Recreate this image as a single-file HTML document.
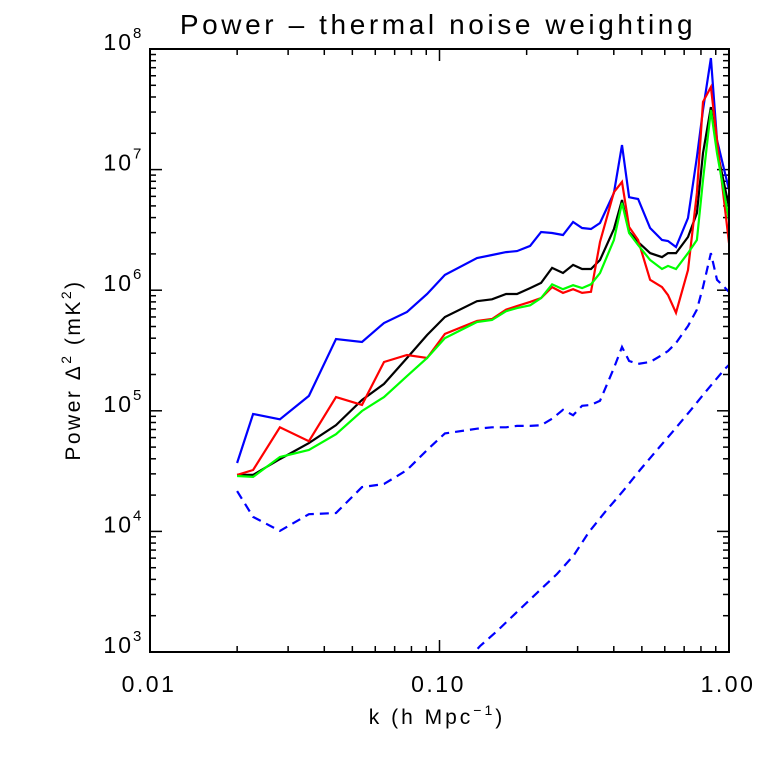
<!DOCTYPE html>
<html><head><meta charset="utf-8"><style>
body{margin:0;background:#fff;}
svg text{font-family:"Liberation Sans",sans-serif;fill:#000;font-weight:300;}
</style></head><body>
<svg id="chart" width="774" height="753" viewBox="0 0 774 753" xmlns="http://www.w3.org/2000/svg">
<rect width="774" height="753" fill="#fff"/>
<text x="438" y="34" font-size="28" text-anchor="middle" letter-spacing="3.6">Power – thermal noise weighting</text>
<text x="437" y="724" font-size="21" text-anchor="middle" letter-spacing="3">k (h Mpc<tspan font-size="14" dy="-9">−1</tspan><tspan dy="9">)</tspan></text>
<text transform="translate(80,370) rotate(-90)" font-size="21" text-anchor="middle" letter-spacing="2.5">Power Δ<tspan font-size="14" dy="-9">2</tspan><tspan dy="9"> (mK</tspan><tspan font-size="14" dy="-9">2</tspan><tspan dy="9">)</tspan></text>
<g id="axes"></g>
<defs><clipPath id="plotclip"><rect x="150" y="49" width="579" height="603"/></clipPath></defs>
<g id="series" clip-path="url(#plotclip)"></g>
<rect x="150" y="49" width="579" height="603" fill="none" stroke="#000" stroke-width="2"/>
</svg>
<script>
const kGrid = [0.020,0.0227,0.0281,0.0354,0.0439,0.0540,0.0643,0.0772,0.0906,0.1044,0.1348,0.1518,0.1698,0.1853,0.2055,0.2243,0.2448,0.2671,0.2893,0.3108,0.3337,0.3584,0.4004,0.4270,0.4516,0.4853,0.5338,0.5870,0.6156,0.6562,0.7216,0.7745,0.8130,0.8660,0.9090,1.0];
const blueSolid = [3.69e4,9.4e4,8.5e4,1.33e5,3.94e5,3.72e5,5.35e5,6.6e5,9.3e5,1.34e6,1.85e6,1.96e6,2.07e6,2.11e6,2.33e6,3.04e6,2.98e6,2.87e6,3.68e6,3.28e6,3.22e6,3.61e6,6.4e6,1.60e7,5.9e6,5.7e6,3.28e6,2.61e6,2.56e6,2.28e6,3.97e6,1.27e7,3.12e7,8.4e7,1.76e7,6.8e6];
const blackSolid = [2.94e4,2.94e4,3.98e4,5.4e4,7.6e4,1.23e5,1.67e5,2.74e5,4.25e5,6.0e5,8.1e5,8.4e5,9.3e5,9.3e5,1.04e6,1.15e6,1.53e6,1.39e6,1.62e6,1.50e6,1.50e6,1.78e6,3.21e6,5.6e6,3.04e6,2.51e6,2.03e6,1.88e6,2.03e6,2.03e6,2.76e6,4.36e6,1.37e7,3.30e7,1.46e7,4.9e6];
const greenSolid = [2.88e4,2.83e4,4.14e4,4.73e4,6.4e4,9.96e4,1.30e5,1.94e5,2.74e5,4.0e5,5.45e5,5.66e5,6.7e5,7.1e5,7.5e5,8.6e5,1.12e6,1.02e6,1.10e6,1.04e6,1.12e6,1.39e6,2.61e6,5.3e6,2.98e6,2.37e6,1.78e6,1.50e6,1.59e6,1.50e6,2.03e6,2.61e6,8.2e6,3.12e7,1.37e7,3.82e6];
const redSolid = [2.94e4,3.23e4,7.3e4,5.6e4,1.30e5,1.12e5,2.54e5,2.90e5,2.74e5,4.34e5,5.55e5,5.77e5,6.9e5,7.4e5,8.0e5,8.6e5,1.06e6,9.5e5,1.02e6,9.5e5,9.7e5,2.51e6,6.5e6,7.9e6,3.34e6,2.61e6,1.22e6,1.06e6,9.1e5,6.5e5,1.47e6,6.4e6,3.64e7,4.84e7,1.76e7,2.46e6];
const blueDashed = [2.16e4,1.32e4,1.01e4,1.39e4,1.42e4,2.33e4,2.47e4,3.23e4,4.73e4,6.5e4,7.1e4,7.3e4,7.3e4,7.5e4,7.5e4,7.6e4,8.6e4,1.02e5,9.2e4,1.10e5,1.12e5,1.21e5,2.26e5,3.38e5,2.59e5,2.45e5,2.54e5,2.90e5,3.13e5,3.65e5,5.05e5,6.9e5,1.06e6,2.03e6,1.22e6,9.7e5];
const kModel = [0.125,0.138,0.158,0.1837,0.2172,0.2546,0.2915,0.3284,0.3760,0.4305,0.4928,0.564,0.6457,0.739,0.846,0.969,1.0];
const modelDashed = [8.6e2,1.12e3,1.49e3,2.11e3,3.09e3,4.43e3,6.37e3,9.9e3,1.48e4,2.16e4,3.23e4,4.73e4,6.9e4,1.02e5,1.52e5,2.23e5,2.4e5];
const xTickVals = [0.01,0.1,1.0];
const xTickLabels = ["0.01","0.10","1.00"];
const yTickExps = [3,4,5,6,7,8];

const X0=150,X1=729,Y0=652,Y1=49;
const xMin=-2,xMax=0,yMin=3,yMax=8;
function xs(k){return X0+(Math.log10(k)-xMin)/(xMax-xMin)*(X1-X0);}
function ys(p){return Y0-(Math.log10(p)-yMin)/(yMax-yMin)*(Y0-Y1);}
const NS="http://www.w3.org/2000/svg";
const axes=document.getElementById('axes');
const series=document.getElementById('series');
function mk(tag,attrs,parent){const e=document.createElementNS(NS,tag);for(const a in attrs)e.setAttribute(a,attrs[a]);parent.appendChild(e);return e;}

for(let d=xMin; d<xMax; d++){
  for(let m=1;m<=9;m++){
    const k=m*Math.pow(10,d); const x=xs(k); const len=(m===1)?12:6;
    if(m===1 && d===xMin) continue;
    const t1=mk('line',{x1:x,x2:x,y1:Y0,y2:Y0-len,stroke:'#000','stroke-width':1.5},axes);
    
    
    const t2=mk('line',{x1:x,x2:x,y1:Y1,y2:Y1+len,stroke:'#000','stroke-width':1.5},axes);
    
    
  }
}
xTickVals.forEach((v,i)=>{
  const t=mk('text',{x:xs(v)-1,y:692,'font-size':23,'text-anchor':'middle','letter-spacing':2.5},axes);
  t.textContent=xTickLabels[i];
  
  
});
for(let d=yMin; d<yMax; d++){
  for(let m=1;m<=9;m++){
    const p=m*Math.pow(10,d); const y=ys(p); const len=(m===1)?12:6;
    if(m===1 && d===yMin) continue;
    const t1=mk('line',{x1:X0,x2:X0+len,y1:y,y2:y,stroke:'#000','stroke-width':1.5},axes);
    
    
    const t2=mk('line',{x1:X1,x2:X1-len,y1:y,y2:y,stroke:'#000','stroke-width':1.5},axes);
    
    
  }
}
yTickExps.forEach(e=>{
  const y=ys(Math.pow(10,e));
  const t=mk('text',{x:133,y:y+1,'font-size':23,'text-anchor':'end','letter-spacing':2},axes);
  t.textContent='10';
  
  
  const s=mk('text',{x:133,y:y-11,'font-size':15,'text-anchor':'start'},axes);
  s.textContent=String(e);
  
  
});

function drawLine(kv,pv,color,dash,name){
  const d=kv.map((k,i)=>(i?'L':'M')+xs(k).toFixed(1)+','+ys(pv[i]).toFixed(1)).join(' ');
  const p=mk('path',{d:d,fill:'none',stroke:color,'stroke-width':2.2,'stroke-linejoin':'miter'},series);
  if(dash) p.setAttribute('stroke-dasharray',dash);
  
  
}
drawLine(kGrid,blueDashed,'#0000ff','9 6','blue-dashed-line');
drawLine(kModel,modelDashed,'#0000ff','9 6','model-dashed-line');
drawLine(kGrid,blueSolid,'#0000ff',null,'blue-line');
drawLine(kGrid,blackSolid,'#000000',null,'black-line');
drawLine(kGrid,redSolid,'#ff0000',null,'red-line');
drawLine(kGrid,greenSolid,'#00ff00',null,'green-line');
</script>
</body></html>
